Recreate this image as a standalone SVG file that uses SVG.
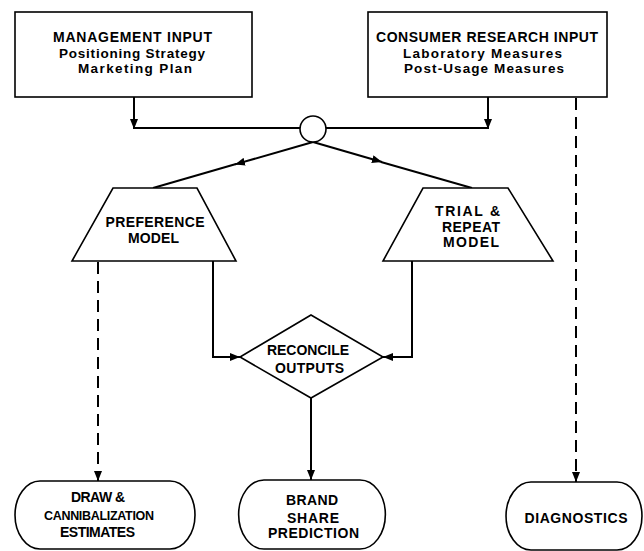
<svg xmlns="http://www.w3.org/2000/svg" width="644" height="551" viewBox="0 0 644 551">
<style>
  .shape { fill: #fff; stroke: #000; stroke-width: 1.6; }
  .line { fill: none; stroke: #000; stroke-width: 2; }
  .dash { fill: none; stroke: #000; stroke-width: 2; stroke-dasharray: 12 7; }
  text { font-family: "Liberation Sans", Arial, sans-serif; font-weight: bold; font-size: 14px; fill: #000; text-anchor: middle; }
  .sub { font-size: 13.5px; }
  .narrow { font-size: 12.5px; }
</style>
<defs>
  <marker id="arr" markerUnits="userSpaceOnUse" markerWidth="10" markerHeight="8" refX="10" refY="4" orient="auto">
    <path d="M0,0 L10,4 L0,8 Z" fill="#000"/>
  </marker>
</defs>
<rect width="644" height="551" fill="#fff"/>

<g id="connectors">
  <line class="line" x1="134" y1="97" x2="134" y2="129" marker-end="url(#arr)"/>
  <line class="line" x1="133" y1="128" x2="300" y2="128"/>
  <line class="line" x1="488" y1="97" x2="488" y2="129" marker-end="url(#arr)"/>
  <line class="line" x1="489" y1="128" x2="326" y2="128"/>
  <line class="line" x1="313" y1="142" x2="235" y2="164.4" marker-end="url(#arr)"/>
  <line class="line" x1="236" y1="164" x2="153" y2="188"/>
  <line class="line" x1="313" y1="142" x2="382" y2="162" marker-end="url(#arr)"/>
  <line class="line" x1="381" y1="162" x2="472" y2="188"/>
  <polyline class="line" points="213,261 213,357 240,357" marker-end="url(#arr)"/>
  <polyline class="line" points="412,261 412,357 383,357" marker-end="url(#arr)"/>
  <line class="line" x1="311" y1="398" x2="311" y2="480" marker-end="url(#arr)"/>
  <line class="dash" x1="98" y1="262" x2="98" y2="481" marker-end="url(#arr)"/>
  <line class="dash" x1="576" y1="98" x2="576" y2="482" marker-end="url(#arr)"/>
</g>

<g id="management-input">
  <rect class="shape" x="15" y="12" width="237" height="85"/>
  <text x="132.5" y="42" textLength="159" lengthAdjust="spacing">MANAGEMENT INPUT</text>
  <text class="sub" x="132" y="58" textLength="146" lengthAdjust="spacing">Positioning Strategy</text>
  <text class="sub" x="135" y="73" textLength="114" lengthAdjust="spacing">Marketing Plan</text>
</g>

<g id="consumer-research-input">
  <rect class="shape" x="368" y="12" width="239" height="85"/>
  <text x="487" y="42" textLength="222" lengthAdjust="spacing">CONSUMER RESEARCH INPUT</text>
  <text class="sub" x="482.5" y="58" textLength="159" lengthAdjust="spacing">Laboratory Measures</text>
  <text class="sub" x="484" y="73" textLength="160" lengthAdjust="spacing">Post-Usage Measures</text>
</g>

<g id="junction">
  <circle class="shape" cx="313" cy="129" r="13"/>
</g>

<g id="preference-model">
  <polygon class="shape" points="113,188 197,188 236,261 72,261"/>
  <text x="155" y="227" textLength="99" lengthAdjust="spacing">PREFERENCE</text>
  <text x="153.5" y="243" textLength="51" lengthAdjust="spacing">MODEL</text>
</g>

<g id="trial-repeat-model">
  <polygon class="shape" points="423,188 508,188 553,261 383,261"/>
  <text x="467.5" y="216" textLength="65" lengthAdjust="spacing">TRIAL &amp;</text>
  <text x="471" y="232" textLength="58" lengthAdjust="spacing">REPEAT</text>
  <text x="471" y="247" textLength="56" lengthAdjust="spacing">MODEL</text>
</g>

<g id="reconcile-outputs">
  <polygon class="shape" points="311,315 383,357 311,398 240,357"/>
  <text x="308" y="355" textLength="82" lengthAdjust="spacing">RECONCILE</text>
  <text x="309.5" y="373" textLength="69" lengthAdjust="spacing">OUTPUTS</text>
</g>

<g id="draw-cannibalization">
  <path class="shape" d="M40,481 H170 A25,34 0 0 1 170,549 H40 A25,34 0 0 1 40,481 Z"/>
  <text x="98" y="502" textLength="54" lengthAdjust="spacing">DRAW &amp;</text>
  <text class="narrow" x="99" y="520" textLength="110" lengthAdjust="spacing">CANNIBALIZATION</text>
  <text x="97.5" y="537" textLength="75" lengthAdjust="spacing">ESTIMATES</text>
</g>

<g id="brand-share-prediction">
  <path class="shape" d="M264,480 H360 A25,34 0 0 1 360,549 H264 A25,34 0 0 1 264,480 Z"/>
  <text x="312" y="505" textLength="52" lengthAdjust="spacing">BRAND</text>
  <text x="313" y="523" textLength="52" lengthAdjust="spacing">SHARE</text>
  <text x="313.5" y="538" textLength="91" lengthAdjust="spacing">PREDICTION</text>
</g>

<g id="diagnostics">
  <path class="shape" d="M531,482 H617 A25,34 0 0 1 617,550 H531 A25,34 0 0 1 531,482 Z"/>
  <text x="576" y="523" textLength="103" lengthAdjust="spacing">DIAGNOSTICS</text>
</g>
</svg>
